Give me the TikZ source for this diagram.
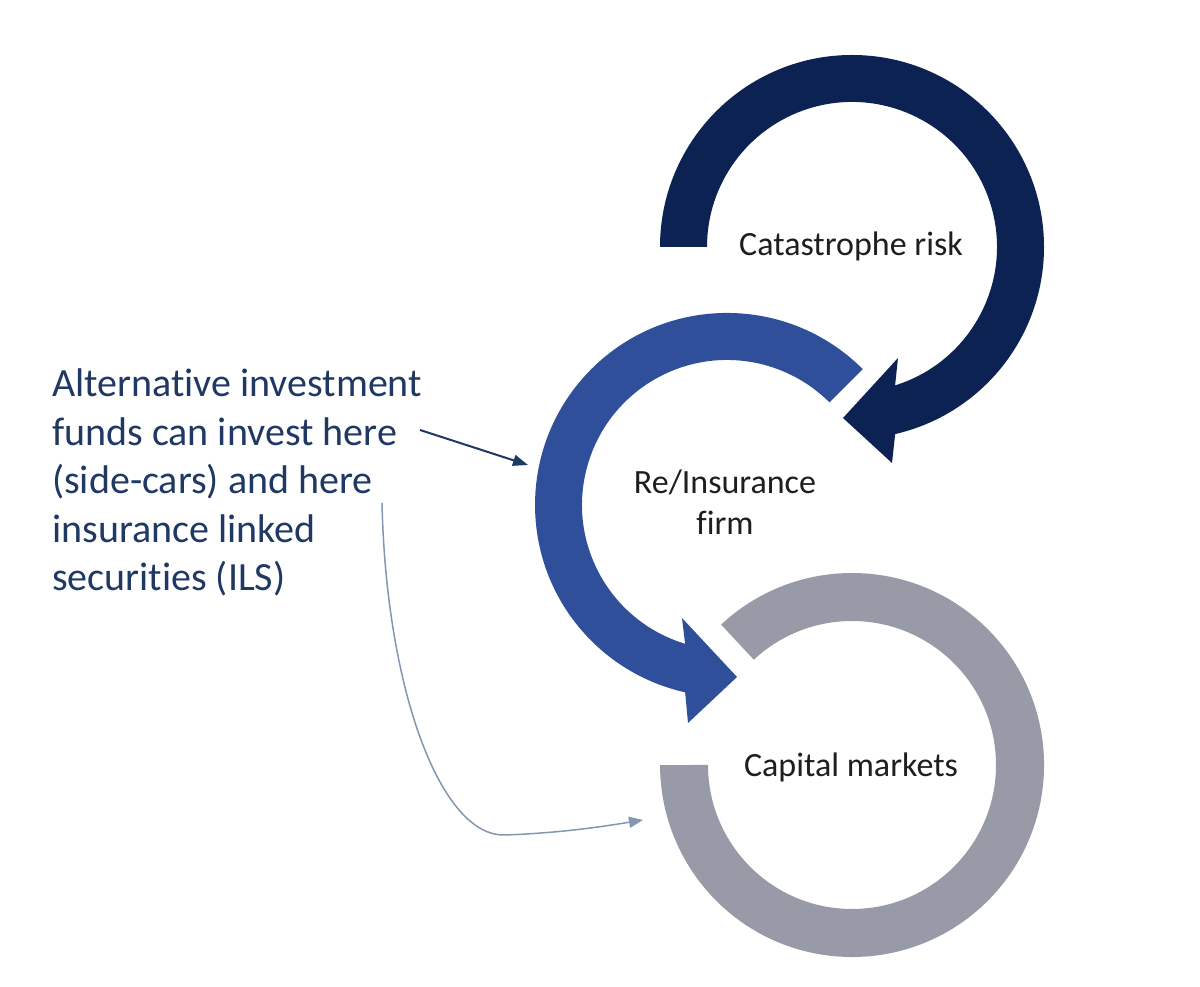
\documentclass[tikz,border=0pt]{standalone}
\usepackage{fontspec}
\setmainfont{Carlito}[Ligatures=NoCommon]
\usetikzlibrary{arrows.meta}
\definecolor{navy}{HTML}{0B2253}
\definecolor{midblue}{HTML}{2F4F9B}
\definecolor{ringgray}{HTML}{989AA7}
\definecolor{txtblue}{HTML}{1F3864}
\definecolor{arrgray}{HTML}{8497B0}
\definecolor{txtdark}{HTML}{1E1E1E}
\begin{document}
\begin{tikzpicture}[x=1pt,y=1pt,
  lbl/.style={font=\fontsize{34}{41}\selectfont, text=txtdark, inner sep=0pt, align=center},
  note/.style={font=\fontsize{40}{48.5}\selectfont, text=txtblue, inner sep=0pt, align=left},
  pointer/.style={-{Triangle[length=15pt,width=11pt]}, line width=2pt, draw=txtblue},
  softpointer/.style={-{Triangle[length=14pt,width=11pt]}, line width=1.5pt, draw=arrgray}]
\fill[white] (0,0) rectangle (1200,987);
\useasboundingbox (0,0) rectangle (1200,987);

% top ring (catastrophe risk)
\fill[navy] (660,740) arc[start angle=180, end angle=-77, radius=192]
  -- (892,524) -- (843,569) -- (898,629) -- (895.1,601.6)
  arc[start angle=-72.7, end angle=180, radius=145] -- cycle;

% middle ring (re/insurance)
\fill[midblue] (862.8,617.8) arc[start angle=45, end angle=257.4, radius=192]
  -- (688,264) -- (737,310) -- (682,369) -- (685.1,343.2)
  arc[start angle=253.2, end angle=45, radius=145] -- cycle;

% bottom ring (capital markets)
\fill[ringgray] (721.1,362.4) arc[start angle=133, end angle=-180, radius=192]
  -- (708,222) arc[start angle=-180, end angle=133, radius=144] -- cycle;

\node[lbl, anchor=base] (cat) at (851,731) {Catastrophe risk};
\node[lbl, anchor=base] (firm) at (725,452) {Re/Insurance\\firm};
\node[lbl, anchor=base] (cap) at (851,210) {Capital markets};

\node[note, anchor=base west] (note) at (52,396) {Alternative investment\\funds can invest here\\(side-cars) and here\\insurance linked\\securities (ILS)};

\coordinate (p1s) at (420,557);
\coordinate (p1e) at (528,522);
\draw[pointer] (p1s) -- (p1e);

\coordinate (p2s) at (382,484);
\coordinate (p2e) at (643,167);
\draw[softpointer] (p2s) .. controls (386,300) and (440,150) .. (505,152)
  .. controls (560,154) and (600,160) .. (p2e);
\end{tikzpicture}
\end{document}
